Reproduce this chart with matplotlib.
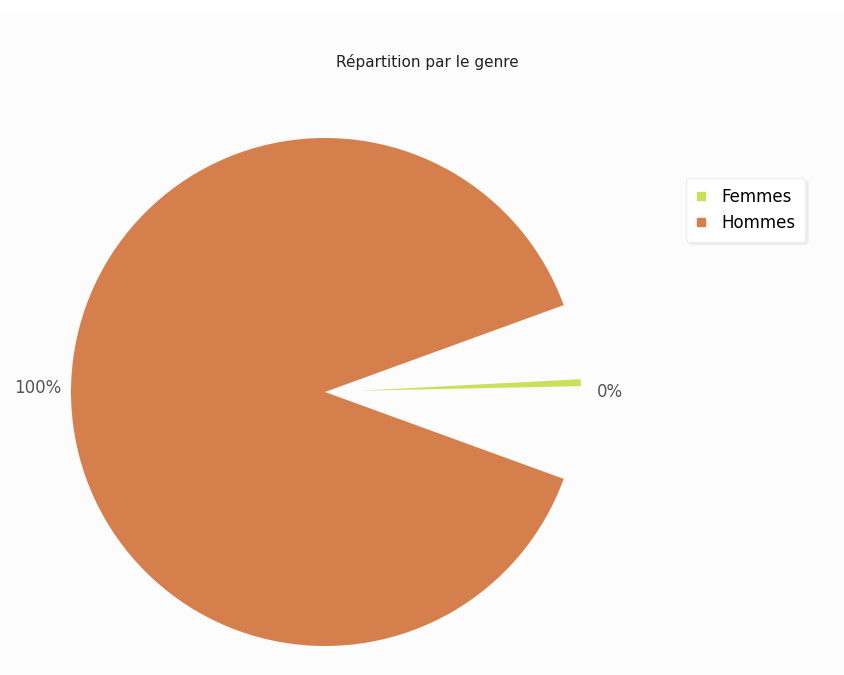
import matplotlib.pyplot as plt
from matplotlib.lines import Line2D
from matplotlib.patches import Rectangle

# data
genres = ["Femmes", "Hommes"]
valeurs = [0.5, 99.5]
couleurs = ["#c8e05a", "#d47f4c"]

W, H = 845, 675
fig = plt.figure(figsize=(W / 100, H / 100), dpi=100, facecolor="#fcfcfc")
fig.add_artist(Rectangle((0, 1 - 14 / H), 1, 14 / H, transform=fig.transFigure,
                         color="white", zorder=-1))
ax = fig.add_axes([0, 0, 1, 1])

cx, cy, r = 325, H - 392, 254
total = sum(valeurs)
pct = [f"{round(v / total * 100)}%" for v in valeurs]

# explode is in data units here (pixels)
wedges, _ = ax.pie(valeurs, colors=couleurs, startangle=1.2, center=(cx, cy),
                   radius=r, explode=[35, 0],
                   wedgeprops=dict(linewidth=0))

# femmes slice: shorter, pulled out; hommes slice: gap on the right
wedges[0].set_radius(0.87 * r)
wedges[1].set_theta1(20)
wedges[1].set_theta2(340)

ax.text(61, H - 388, pct[1], ha="right", va="center", fontsize=12, color="#555555")
ax.text(597, H - 392, pct[0], ha="left", va="center", fontsize=12, color="#555555")

ax.set_xlim(0, W)
ax.set_ylim(0, H)
ax.set_aspect("equal")
ax.axis("off")

fig.text(427 / W, 1 - 62 / H, "Répartition par le genre", ha="center", va="center",
         fontsize=11, color="#222222")

handles = [Line2D([], [], marker="s", linestyle="none", markersize=6,
                  markerfacecolor=c, markeredgecolor=c) for c in couleurs]
leg = fig.legend(handles, genres, loc="upper left", bbox_to_anchor=(686 / W, 1 - 178 / H),
                 fontsize=12, frameon=True, fancybox=True,
                 shadow={"color": "#e2e2e2"}, borderaxespad=0,
                 handlelength=0.6, handletextpad=0.9, labelspacing=0.45,
                 borderpad=0.6)
leg.get_frame().set_facecolor("white")
leg.get_frame().set_edgecolor("#eeeeee")

fig.savefig("out.png", dpi=100, facecolor=fig.get_facecolor())
